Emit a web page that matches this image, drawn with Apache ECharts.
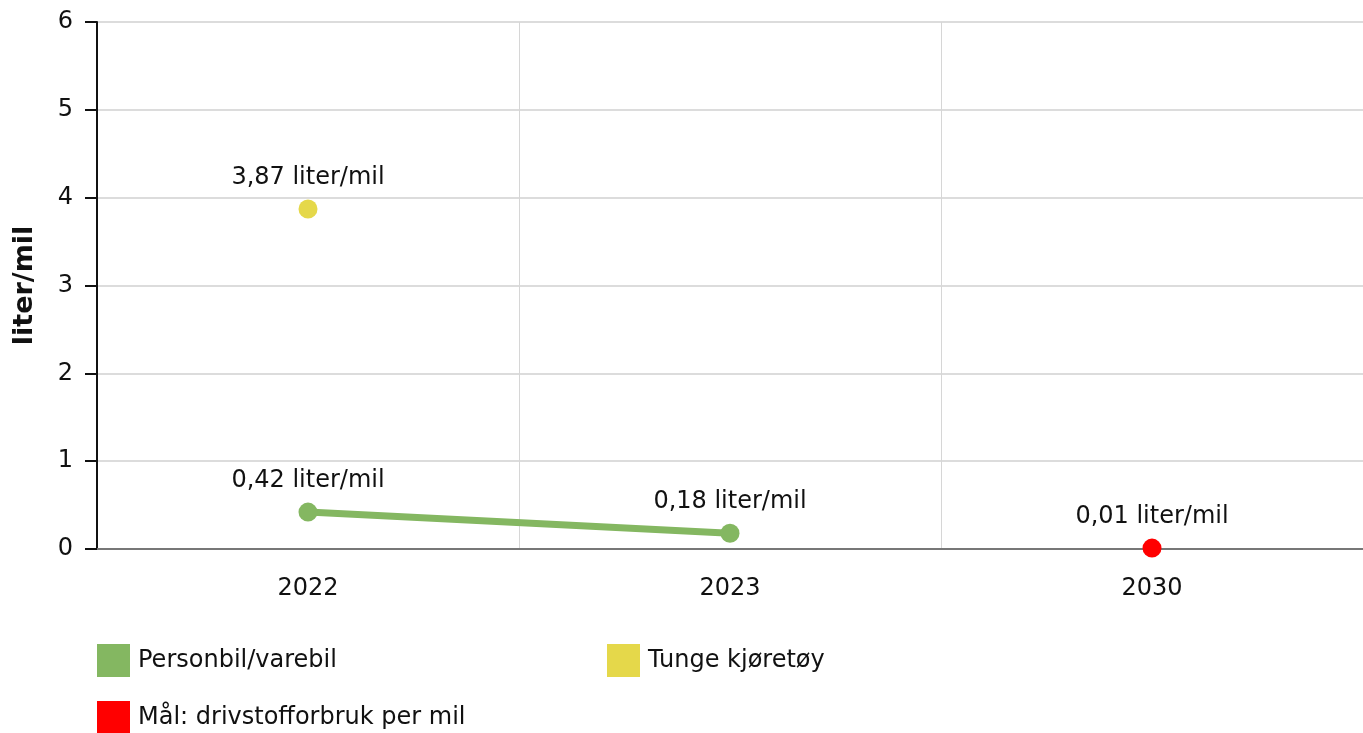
<!DOCTYPE html>
<html><head><meta charset="utf-8">
<script src="https://cdn.jsdelivr.net/npm/echarts@6/dist/echarts.min.js"></script>
<style>html,body{margin:0;padding:0;background:#fff}#c{width:1363px;height:733px}</style>
</head><body><div id="c"></div>
<script>
var categories = ['2022', '2023', '2030'];
var personbil = [0.42, 0.18, null];
var tunge = [3.87, null, null];
var maal = [null, null, 0.01];
var seriesNames = ['Personbil/varebil', 'Tunge kjøretøy', 'Mål: drivstofforbruk per mil'];
var yTicks = [0, 1, 2, 3, 4, 5, 6];
var unit = 'liter/mil';

var FONT = 'DejaVu Sans';
function fmt(p){ return p.value.toFixed(2).replace('.', ',') + ' ' + unit; }
function lbl(){ return {show:true, position:'top', distance:10, formatter:fmt, fontFamily:FONT, fontSize:24, color:'#111'}; }
var colors = ['#84b761', '#e5d84a', '#ff0000'];
function legend(i, left, top){
  return {data:[seriesNames[i]], left:left, top:top, orient:'horizontal', itemWidth:33, itemHeight:33, itemGap:8, icon:'rect',
    textStyle:{fontFamily:FONT, fontSize:24, color:'#111', padding:[0,0,0,3]}, padding:0};
}
var chart = echarts.init(document.getElementById('c'), null, {renderer:'canvas'});
chart.setOption({
  animation:false,
  color: colors,
  grid:{left:97, right:0, top:22, bottom:184, containLabel:false},
  legend:[legend(0, 97, 644), legend(1, 607, 644), legend(2, 97, 701)],
  xAxis:{type:'category', data:categories, boundaryGap:true,
    axisLine:{lineStyle:{color:'#777', width:2}},
    axisTick:{alignWithLabel:true, length:11, lineStyle:{color:'#aaa'}},
    axisLabel:{fontFamily:FONT, fontSize:24, color:'#111', margin:28},
    splitLine:{show:true, lineStyle:{color:'#d6d6d6'}}},
  yAxis:{type:'value', min:yTicks[0], max:yTicks[yTicks.length-1], interval:1,
    name:unit, nameLocation:'middle', nameGap:59, nameRotate:90,
    nameTextStyle:{fontFamily:FONT, fontSize:27, fontWeight:'bold', color:'#111'},
    axisLine:{show:true, lineStyle:{color:'#111', width:2}},
    axisTick:{show:true, length:12, lineStyle:{color:'#111', width:2}},
    axisLabel:{fontFamily:FONT, fontSize:24, color:'#111', margin:24},
    splitLine:{lineStyle:{color:'#dcdcdc', width:2}}},
  series:[
    {name:seriesNames[0], type:'line', data:personbil, symbol:'circle', symbolSize:19, lineStyle:{width:7, color:colors[0]}, itemStyle:{color:colors[0]}, label:lbl()},
    {name:seriesNames[1], type:'line', data:tunge, symbol:'circle', symbolSize:19, itemStyle:{color:colors[1]}, label:lbl()},
    {name:seriesNames[2], type:'line', data:maal, symbol:'circle', symbolSize:19, itemStyle:{color:colors[2]}, label:lbl()}
  ]
});
</script></body></html>
